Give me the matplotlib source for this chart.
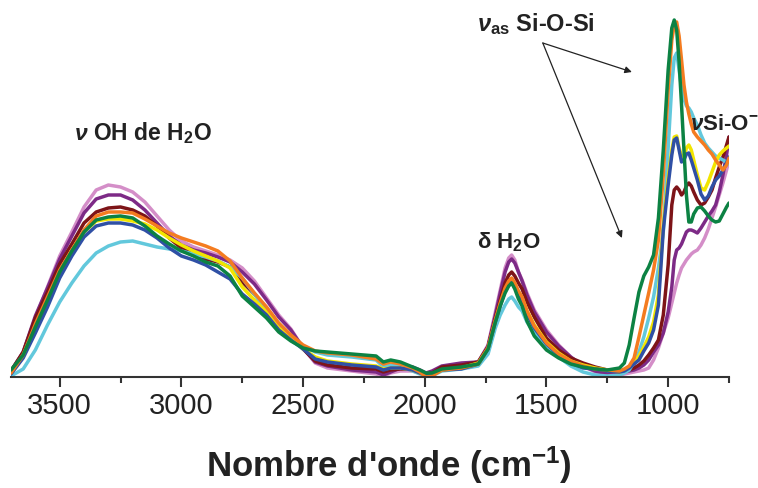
import numpy as np
import matplotlib
matplotlib.use("Agg")
import matplotlib.pyplot as plt

plt.rcParams['font.family'] = ['Liberation Sans', 'DejaVu Sans']
plt.rcParams['mathtext.fontset'] = 'custom'
plt.rcParams['mathtext.rm'] = 'Liberation Sans:bold'
plt.rcParams['mathtext.bf'] = 'Liberation Sans:bold'
plt.rcParams['mathtext.it'] = 'Liberation Sans:bold:italic'

# nombre d'onde (cm-1)
nombre_onde = [3700, 3650, 3600, 3550, 3500, 3450, 3400, 3350, 3300, 3250, 3200, 3150, 3100, 3050,
               3000, 2950, 2900, 2850, 2800, 2750, 2700, 2650, 2600, 2550, 2500, 2450, 2400,
               2300, 2200, 2170, 2140, 2100, 2050, 2020, 1995, 1970, 1930, 1850,
               1780, 1740, 1710, 1690, 1670, 1655, 1643, 1630, 1615, 1600, 1580, 1550,
               1500, 1450, 1400, 1350, 1300, 1250, 1200,
               1180, 1160, 1140, 1120, 1100, 1080, 1060, 1040, 1020, 1000,
               985, 975, 965, 955, 945, 935, 925, 915, 905, 895,
               880, 865, 850, 835, 820, 805, 790, 775, 760, 750]

# absorbance (u.a.) de chaque echantillon
rose = [4, 21, 59, 90, 121, 145, 170, 187, 192, 190, 185, 175, 161, 147,
        136, 130, 126, 122, 117, 109, 96, 79, 62, 48, 29, 14, 9,
        6, 3, 1, 4, 6, 6, 4, 2, 3, 9, 12,
        15, 32, 65, 87, 109, 119, 122, 117, 105, 97, 84, 67,
        47, 32, 20, 11, 5, 2, 2,
        3, 4, 5, 6, 7, 9, 17, 29, 44, 59,
        74, 84, 94, 102, 109, 113, 117, 120, 123, 125,
        127, 132, 139, 148, 159, 170, 182, 194, 207, 217]
violet = [6, 25, 61, 89, 118, 141, 164, 178, 182, 182, 177, 167, 154, 141,
          132, 127, 124, 120, 115, 105, 93, 77, 60, 47, 29, 15, 11,
          7, 5, 2, 5, 9, 10, 7, 4, 6, 11, 14,
          15, 31, 62, 84, 105, 115, 118, 114, 105, 96, 82, 65,
          45, 31, 20, 11, 6, 3, 4,
          5, 6, 7, 9, 12, 17, 25, 32, 44, 65,
          90, 117, 127, 129, 133, 139, 145, 147, 147, 146,
          144, 149, 155, 161, 166, 172, 185, 202, 222, 240]
bordeaux = [6, 25, 59, 85, 113, 133, 154, 165, 169, 170, 167, 161, 151, 139,
            129, 122, 118, 115, 110, 95, 83, 68, 51, 40, 28, 16, 12,
            9, 8, 5, 7, 8, 8, 5, 3, 4, 10, 12,
            15, 30, 59, 77, 94, 102, 105, 101, 94, 88, 75, 60,
            39, 27, 19, 14, 10, 7, 5,
            6, 7, 9, 12, 16, 22, 29, 37, 62, 112,
            172, 187, 190, 187, 182, 185, 191, 194, 191, 185,
            177, 172, 174, 180, 187, 199, 210, 220, 232, 240]
cyan = [1, 8, 27, 52, 75, 94, 111, 124, 131, 135, 136, 133, 130, 128,
        126, 123, 120, 116, 110, 99, 83, 67, 50, 39, 31, 25, 22,
        20, 17, 10, 12, 11, 6, 3, 1, 1, 6, 8,
        11, 23, 49, 62, 72, 78, 80, 76, 70, 66, 55, 44,
        30, 20, 11, 5, 2, 1, 2,
        4, 7, 15, 25, 40, 59, 80, 109, 145, 229,
        292, 319, 324, 307, 289, 278, 271, 269, 265, 259,
        252, 242, 234, 229, 225, 221, 219, 217, 215, 213]
jaune = [5, 22, 50, 77, 105, 127, 145, 156, 158, 158, 156, 153, 147, 139,
         132, 126, 121, 116, 109, 90, 77, 65, 49, 39, 28, 20, 16,
         13, 11, 8, 9, 9, 7, 4, 2, 2, 7, 9,
         14, 29, 56, 72, 87, 94, 97, 92, 85, 79, 66, 52,
         35, 24, 16, 12, 9, 7, 5,
         7, 10, 15, 21, 30, 40, 55, 82, 152, 199,
         227, 240, 241, 229, 221, 220, 229, 232, 227, 217,
         202, 189, 187, 195, 205, 215, 222, 226, 229, 231]
bleu = [3, 19, 44, 70, 99, 121, 140, 151, 154, 154, 152, 147, 139, 129,
        121, 117, 112, 105, 98, 83, 73, 62, 47, 37, 28, 18, 15,
        12, 10, 7, 9, 9, 7, 4, 2, 2, 7, 8,
        13, 28, 55, 71, 86, 92, 95, 90, 82, 76, 63, 49,
        33, 22, 14, 9, 8, 6, 5,
        6, 9, 13, 17, 26, 34, 47, 72, 147, 192,
        222, 237, 239, 227, 215, 217, 223, 224, 217, 209,
        197, 183, 177, 181, 190, 197, 201, 207, 214, 220]
orange = [4, 22, 53, 80, 107, 127, 147, 161, 165, 165, 164, 158, 151, 144,
          139, 135, 131, 126, 116, 99, 84, 70, 54, 42, 32, 26, 24,
          22, 18, 13, 15, 13, 9, 5, 0, 1, 7, 9,
          13, 29, 57, 74, 89, 96, 99, 94, 86, 80, 66, 51,
          34, 23, 16, 11, 8, 7, 6,
          8, 11, 19, 40, 62, 84, 107, 137, 202, 287,
          337, 352, 355, 341, 317, 292, 275, 263, 253, 245,
          240, 236, 232, 227, 223, 217, 212, 207, 212, 219]
vert = [7, 22, 50, 77, 105, 126, 145, 157, 160, 161, 159, 151, 141, 133,
        126, 121, 115, 111, 101, 81, 70, 59, 45, 36, 29, 26, 25,
        23, 21, 15, 17, 15, 10, 7, 4, 4, 8, 10,
        13, 28, 55, 71, 84, 91, 94, 88, 78, 71, 56, 41,
        27, 19, 13, 10, 8, 7, 9,
        14, 32, 59, 85, 101, 110, 122, 159, 227, 307,
        349, 357, 347, 315, 272, 227, 182, 155, 155, 163,
        169, 170, 166, 161, 157, 155, 156, 163, 170, 174]

spectres = [rose, violet, bordeaux, cyan, jaune, bleu, orange, vert]
couleurs = ['#d48ec8', '#7d2a86', '#7d1418', '#62c8dc', '#f2e500', '#2f50a5', '#f47c20', '#0c8243']

fig = plt.figure(figsize=(7.58, 4.88), dpi=100)
ax = fig.add_axes([11/758, 111/488, 718/758, 377/488])

for s, c in zip(spectres, couleurs):
    ax.plot(nombre_onde, s, color=c, lw=2.5, solid_capstyle='round', solid_joinstyle='round')

ax.set_xlim(3700, 750)
ax.set_ylim(0, 377)
ax.set_xticks([3500, 3000, 2500, 2000, 1500, 1000])
ax.set_xticks([3250, 2750, 2250, 1750, 1250, 750], minor=True)
ax.set_yticks([])
for sp in ['left', 'right', 'top']:
    ax.spines[sp].set_visible(False)
ax.spines['bottom'].set_linewidth(1.5)
ax.spines['bottom'].set_color('#333333')
ax.tick_params(axis='x', which='major', length=7, width=1.5, color='#333333',
               labelsize=21, pad=4, labelcolor='#222222')
ax.tick_params(axis='x', which='minor', length=4, width=1.5, color='#333333')
for lab in ax.get_xticklabels():
    lab.set_family(['Liberation Sans Narrow', 'Liberation Sans'])

fig.text(389/758, 1 - 465/488, "Nombre d'onde (cm$^{-1}$)", ha='center', va='center',
         fontsize=25, fontweight='bold', color='#222222')

# annotations des bandes
ax.text(3159, 244, r"$\nu$ OH de H$_2$O", ha='center', va='center', fontsize=16.5,
        fontweight='bold', color='#222222')
ax.text(1655, 135, r"δ H$_2$O", ha='center', va='center', fontsize=16,
        fontweight='bold', color='#222222')
ax.text(1544, 353, r"$\nu_{\mathrm{as}}$ Si-O-Si", ha='center', va='center', fontsize=17,
        fontweight='bold', color='#222222')
ax.text(911, 252, r"$\nu$Si-O$^{-}$", ha='left', va='center', fontsize=16,
        fontweight='bold', color='#222222', clip_on=False)

fleche_depart = (1515, 334)
fleche_fins = [(1149, 305), (1190, 139)]
for fin in fleche_fins:
    ax.annotate('', xy=fin, xytext=fleche_depart,
                arrowprops=dict(arrowstyle='-|>', color='#222222', lw=0.9,
                                mutation_scale=10, shrinkA=0, shrinkB=0))

fig.savefig('out.png', dpi=100)
